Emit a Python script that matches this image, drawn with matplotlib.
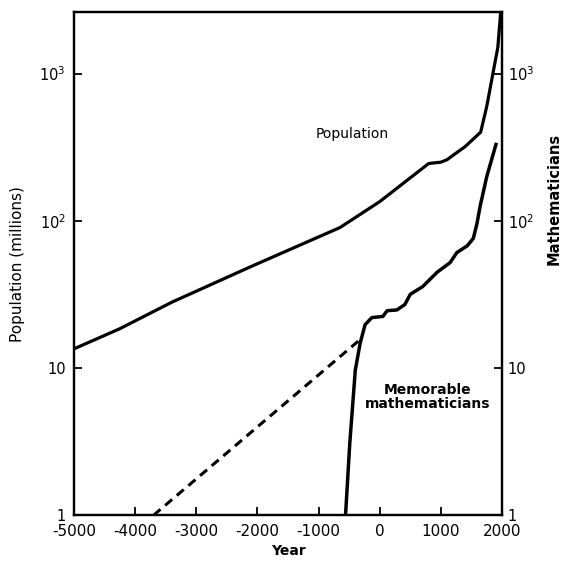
import matplotlib
matplotlib.use('Agg')
import matplotlib.pyplot as plt
from matplotlib.ticker import FixedLocator, NullLocator

# world population (millions)
pop_years = [-5000, -4250, -3400, -2100, -650, 0, 800, 1000, 1100, 1400, 1650, 1750, 1850, 1930, 1980]
pop_values = [13.5, 18.5, 28, 49, 90, 135, 245, 250, 260, 320, 400, 600, 1000, 1500, 2700]

# memorable mathematicians
math_years = [-560, -490, -400, -320, -240, -130, 50, 120, 280, 410, 500, 700, 940, 1150,
              1260, 1430, 1530, 1590, 1640, 1750, 1900]
math_values = [1, 3.1, 9.7, 14.8, 19.7, 22, 22.4, 24.5, 24.8, 27, 31.7, 35.7, 44.8, 52,
               60.8, 67.6, 76, 96, 125, 200, 330]

# extrapolation back in time
dash_years = [-3700, -330]
dash_values = [1, 15.5]

x_ticks = [-5000, -4000, -3000, -2000, -1000, 0, 1000, 2000]
x_labels = ["-5000", "-4000", "-3000", "-2000", "-1000", "0", "1000", "2000"]
y_ticks = [1, 10, 100, 1000]
y_labels = ["1", "10", "$10^2$", "$10^3$"]

plt.rcParams['font.family'] = 'DejaVu Sans'

fig = plt.figure(figsize=(5.67, 5.65), dpi=100)
ax = fig.add_axes([0.1305, 0.088, 0.755, 0.89])

ax.plot(pop_years, pop_values, color='black', lw=2.3)
ax.plot(math_years, math_values, color='black', lw=2.5)
ax.plot(dash_years, dash_values, color='black', lw=2.2, ls=(0, (3, 2)))

ax.set_yscale('log')
ax.set_xlim(-5000, 2000)
ax.set_ylim(1, 2600)
ax.set_xticks(x_ticks)
ax.set_xticklabels(x_labels, fontsize=11)
ax.yaxis.set_major_locator(FixedLocator(y_ticks))
ax.yaxis.set_minor_locator(NullLocator())
ax.set_yticklabels(y_labels, fontsize=10.5)
ax.tick_params(direction='in', length=6, width=1.3, pad=6)

for s in ax.spines.values():
    s.set_linewidth(1.6)

ax.set_xlabel("Year", fontsize=10, fontweight='bold', labelpad=4)
ax.set_ylabel("Population (millions)", fontsize=11, labelpad=10)

ax2 = ax.twinx()
ax2.set_yscale('log')
ax2.set_ylim(1, 2600)
ax2.yaxis.set_major_locator(FixedLocator(y_ticks))
ax2.yaxis.set_minor_locator(NullLocator())
ax2.set_yticklabels(y_labels, fontsize=10.5)
ax2.tick_params(direction='in', length=6, width=1.3, pad=4)
ax2.set_ylabel("Mathematicians", fontsize=10.5, fontweight='bold', rotation=90)
ax2.yaxis.set_label_coords(1.105, 0.63)
for s in ax2.spines.values():
    s.set_linewidth(1.6)

ax.text(0.65, 0.758, "Population", transform=ax.transAxes, ha='center', va='center', fontsize=10)
ax.text(0.825, 0.236, "Memorable\nmathematicians", transform=ax.transAxes, ha='center',
        va='center', fontsize=10, fontweight='semibold', linespacing=1.0)

fig.savefig('out.png')
